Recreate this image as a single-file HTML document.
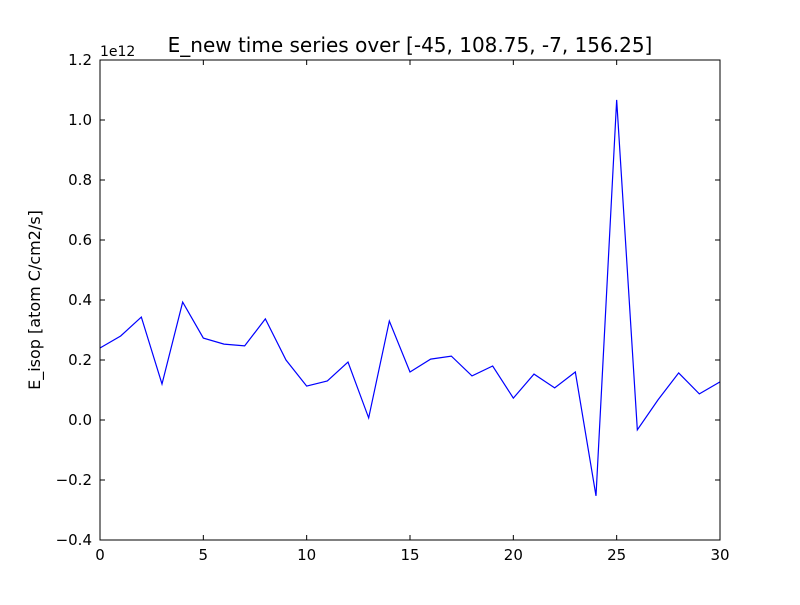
<!DOCTYPE html>
<html><head><meta charset="utf-8"><style>
body{margin:0;background:#fff;}
svg text{font-family:"DejaVu Sans","Liberation Sans",sans-serif;}
</style></head><body>
<svg id="chart" width="800" height="600" xmlns="http://www.w3.org/2000/svg">
<rect width="800" height="600" fill="#fff"/>
<text x="410" y="52" font-size="20" text-anchor="middle">E_new time series over [-45, 108.75, -7, 156.25]</text>
<text x="100" y="56" font-size="14">1e12</text>
<text transform="translate(40,300) rotate(-90)" font-size="16" text-anchor="middle">E_isop [atom C/cm2/s]</text>
<g id="ticks"></g>
<polyline id="line" fill="none" stroke="#0000ff" stroke-width="1.2"/>
<rect x="100" y="60" width="620" height="480" fill="none" stroke="#000" stroke-width="1"/>
</svg>
<script>
const xValues=[0,1,2,3,4,5,6,7,8,9,10,11,12,13,14,15,16,17,18,19,20,21,22,23,24,25,26,27,28,29,30];
const yValues=[0.24,0.28,0.343,0.12,0.393,0.273,0.253,0.247,0.337,0.2,0.113,0.13,0.193,0.007,0.33,0.16,0.203,0.213,0.147,0.18,0.073,0.153,0.107,0.16,-0.253,1.067,-0.033,0.067,0.157,0.087,0.127];
const xTicks=[0,5,10,15,20,25,30];
const yTicks=[-0.4,-0.2,0.0,0.2,0.4,0.6,0.8,1.0,1.2];
const yTickLabels=["\u22120.4","\u22120.2","0.0","0.2","0.4","0.6","0.8","1.0","1.2"];
const X0=100,X1=720,Y0=540,Y1=60;
const sx=v=>X0+(v-0)/(30-0)*(X1-X0);
const sy=v=>Y0-(v+0.4)/(1.6)*(Y0-Y1);
const NS="http://www.w3.org/2000/svg";
const g=document.getElementById('ticks');
function mk(t,a){const e=document.createElementNS(NS,t);for(const k in a)e.setAttribute(k,a[k]);return e;}
xTicks.forEach(t=>{
 const x=sx(t);
 const l1=mk('line',{x1:x,x2:x,y1:Y0,y2:Y0-5,stroke:'#000'});
 
 
 g.appendChild(l1);
 const l2=mk('line',{x1:x,x2:x,y1:Y1,y2:Y1+5,stroke:'#000'});
 
 
 g.appendChild(l2);
 const tx=mk('text',{x:x,y:Y0+20,'font-size':15,'text-anchor':'middle'});
 tx.textContent=t;
 
 
 g.appendChild(tx);
});
yTicks.forEach((t,i)=>{
 const y=sy(t);
 const l1=mk('line',{x1:X0,x2:X0+5,y1:y,y2:y,stroke:'#000'});
 
 
 g.appendChild(l1);
 const l2=mk('line',{x1:X1,x2:X1-5,y1:y,y2:y,stroke:'#000'});
 
 
 g.appendChild(l2);
 const tx=mk('text',{x:X0-8,y:y+5,'font-size':15,'text-anchor':'end'});
 tx.textContent=yTickLabels[i];
 
 
 g.appendChild(tx);
});
document.getElementById('line').setAttribute('points',xValues.map((x,i)=>sx(x)+','+sy(yValues[i])).join(' '));
</script>
</body></html>
